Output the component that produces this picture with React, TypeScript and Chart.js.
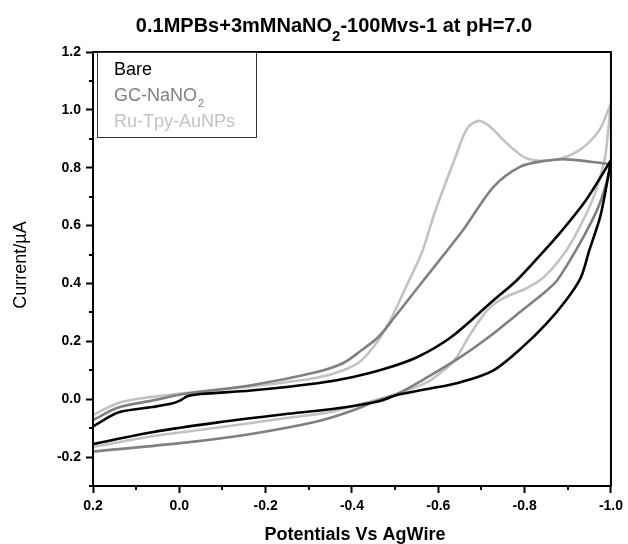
import React, { useEffect, useRef } from "react";
import { Chart, registerables } from "chart.js";

Chart.register(...registerables);

// ---- Text ----
const titleMain = "0.1MPBs+3mMNaNO";
const titleSub = "2";
const titleTail = "-100Mvs-1 at pH=7.0";
const xAxisTitle = "Potentials Vs AgWire";
const yAxisTitle = "Current/\u00B5A";

const seriesLabels = ["Bare", "GC-NaNO", "Ru-Tpy-AuNPs"];
const seriesLabelSubs = ["", "2", ""];
const seriesColors = ["#000000", "#808080", "#c2c2c2"];

// ---- Data: potential (V) vs current (µA); forward scan 0.2 -> -1.0, return -1.0 -> 0.2 ----
// Bare
const bareFwdX = [0.2, 0.19, 0.14, 0.063, 0.02, 0.0, -0.02, -0.05, -0.166, -0.32, -0.4, -0.476, -0.552, -0.63, -0.728, -0.782, -0.843, -0.881, -0.942, -1.0];
const bareFwdY = [-0.095, -0.085, -0.045, -0.027, -0.016, -0.006, 0.011, 0.018, 0.03, 0.055, 0.076, 0.105, 0.146, 0.215, 0.342, 0.411, 0.509, 0.573, 0.688, 0.826];
const bareRetX = [-1.0, -0.99, -0.975, -0.95, -0.93, -0.896, -0.85, -0.795, -0.728, -0.652, -0.575, -0.506, -0.461, -0.35, -0.243, -0.09, 0.063, 0.2];
const bareRetY = [0.826, 0.74, 0.63, 0.515, 0.42, 0.342, 0.26, 0.18, 0.1, 0.059, 0.035, 0.015, -0.008, -0.035, -0.052, -0.08, -0.114, -0.155];

// GC-NaNO2
const gcFwdX = [0.2, 0.14, 0.063, -0.013, -0.166, -0.319, -0.38, -0.422, -0.461, -0.499, -0.56, -0.621, -0.66, -0.728, -0.789, -0.843, -0.896, -0.957, -1.0];
const gcFwdY = [-0.072, -0.028, -0.005, 0.019, 0.048, 0.094, 0.125, 0.169, 0.215, 0.284, 0.4, 0.515, 0.59, 0.734, 0.803, 0.823, 0.829, 0.82, 0.812];
const gcRetX = [-1.0, -0.99, -0.975, -0.957, -0.919, -0.875, -0.843, -0.78, -0.728, -0.652, -0.575, -0.506, -0.46, -0.4, -0.319, -0.166, -0.013, 0.2];
const gcRetY = [0.812, 0.75, 0.68, 0.62, 0.515, 0.41, 0.365, 0.29, 0.227, 0.146, 0.076, 0.019, -0.004, -0.04, -0.077, -0.12, -0.15, -0.181];

// Ru-Tpy-AuNPs
const ruFwdX = [0.2, 0.14, 0.063, -0.013, -0.166, -0.319, -0.38, -0.422, -0.476, -0.529, -0.564, -0.591, -0.637, -0.667, -0.694, -0.72, -0.759, -0.805, -0.866, -0.927, -0.973, -1.0];
const ruFwdY = [-0.055, -0.012, 0.008, 0.021, 0.044, 0.074, 0.1, 0.134, 0.238, 0.4, 0.515, 0.642, 0.826, 0.936, 0.962, 0.942, 0.884, 0.832, 0.826, 0.861, 0.93, 1.023];
const ruRetX = [-1.0, -0.993, -0.985, -0.957, -0.911, -0.88, -0.843, -0.8, -0.766, -0.735, -0.713, -0.675, -0.637, -0.6, -0.575, -0.506, -0.422, -0.346, -0.243, -0.09, 0.063, 0.2];
const ruRetY = [1.023, 0.92, 0.826, 0.688, 0.549, 0.48, 0.42, 0.38, 0.36, 0.335, 0.307, 0.227, 0.134, 0.085, 0.059, 0.019, -0.016, -0.045, -0.066, -0.098, -0.128, -0.165];

// ---- Ticks ----
const xTicks = [0.2, 0.1, 0.0, -0.1, -0.2, -0.3, -0.4, -0.5, -0.6, -0.7, -0.8, -0.9, -1.0];
const yTicks = [-0.3, -0.2, -0.1, 0.0, 0.1, 0.2, 0.3, 0.4, 0.5, 0.6, 0.7, 0.8, 0.9, 1.0, 1.1, 1.2];

function toPoints(fx: number[], fy: number[], rx: number[], ry: number[]) {
  const pts = fx.map((x, i) => ({ x, y: fy[i] }));
  return pts.concat(rx.map((x, i) => ({ x, y: ry[i] })));
}

const FONT = "'Liberation Sans', Arial, sans-serif";

const isMajor = (v: number) => Math.round(v * 10) % 2 === 0;
const tickLabel = (v: number) => (isMajor(v) ? (Math.round(v * 10) / 10).toFixed(1) : "");
const tickColorFn = (c: any) => (c.tick && isMajor(c.tick.value) ? "#000" : "rgba(0,0,0,0)");

const decorPlugin = {
  id: "decor",
  afterDraw(chart: any) {
    const { ctx, chartArea } = chart;
    const { left, right, top, bottom } = chartArea;
    const xs = chart.scales.x;
    const ys = chart.scales.y;
    ctx.save();
    // frame
    ctx.strokeStyle = "#000";
    ctx.lineWidth = 2;
    ctx.strokeRect(left, top, right - left, bottom - top);

    // minor ticks
    ctx.lineWidth = 2;
    ctx.beginPath();
    xTicks.filter((v) => !isMajor(v)).forEach((v) => {
      const px = Math.round(xs.getPixelForValue(v));
      ctx.moveTo(px, bottom);
      ctx.lineTo(px, bottom + 4);
    });
    yTicks.filter((v) => !isMajor(v)).forEach((v) => {
      const py = Math.round(ys.getPixelForValue(v));
      ctx.moveTo(left, py);
      ctx.lineTo(left - 4, py);
    });
    ctx.stroke();

    // title
    ctx.fillStyle = "#000";
    ctx.textBaseline = "alphabetic";
    ctx.textAlign = "left";
    ctx.font = `bold 20px ${FONT}`;
    const w1 = ctx.measureText(titleMain).width;
    const w3 = ctx.measureText(titleTail).width;
    ctx.font = `bold 15px ${FONT}`;
    const w2 = ctx.measureText(titleSub).width;
    const total = w1 + w2 + w3;
    let tx = 334 - total / 2;
    const ty = 32;
    ctx.font = `bold 20px ${FONT}`;
    ctx.fillText(titleMain, tx, ty);
    tx += w1;
    ctx.font = `bold 15px ${FONT}`;
    ctx.fillText(titleSub, tx, ty + 9);
    tx += w2;
    ctx.font = `bold 20px ${FONT}`;
    ctx.fillText(titleTail, tx, ty);

    // axis titles
    ctx.textAlign = "center";
    ctx.textBaseline = "alphabetic";
    ctx.font = `bold 18px ${FONT}`;
    ctx.fillText(xAxisTitle, 355, 540);
    ctx.save();
    ctx.translate(21, 265);
    ctx.rotate(-Math.PI / 2);
    ctx.textBaseline = "middle";
    ctx.font = `18px ${FONT}`;
    ctx.fillText(yAxisTitle, 0, 0);
    ctx.restore();

    // legend box
    const bx = left + 4;
    const by = top;
    const bw = 159;
    const bh = 85;
    ctx.fillStyle = "#ffffff";
    ctx.fillRect(bx, by + 1, bw, bh - 1);
    ctx.strokeStyle = "#333";
    ctx.lineWidth = 1;
    ctx.strokeRect(bx + 0.5, by + 0.5, bw, bh);
    ctx.textAlign = "left";
    ctx.textBaseline = "middle";
    seriesLabels.forEach((lab, i) => {
      const yy = by + 18 + i * 26;
      ctx.fillStyle = seriesColors[i];
      ctx.font = `18px ${FONT}`;
      ctx.fillText(lab, bx + 17, yy);
      if (seriesLabelSubs[i]) {
        const lw = ctx.measureText(lab).width;
        ctx.font = `11px ${FONT}`;
        ctx.fillText(seriesLabelSubs[i], bx + 17 + lw + 1, yy + 8);
      }
    });
    ctx.restore();
  },
};

export default function App() {
  const ref = useRef<HTMLCanvasElement | null>(null);
  useEffect(() => {
    if (!ref.current) return;
    const datasets = [
      { label: "Bare", data: toPoints(bareFwdX, bareFwdY, bareRetX, bareRetY), color: seriesColors[0], order: 0 },
      { label: "GC-NaNO2", data: toPoints(gcFwdX, gcFwdY, gcRetX, gcRetY), color: seriesColors[1], order: 1 },
      { label: "Ru-Tpy-AuNPs", data: toPoints(ruFwdX, ruFwdY, ruRetX, ruRetY), color: seriesColors[2], order: 2 },
    ].map((d) => ({
      label: d.label,
      data: d.data,
      borderColor: d.color,
      backgroundColor: d.color,
      borderWidth: 2.6,
      pointRadius: 0,
      showLine: true,
      tension: 0.3,
      fill: false,
      order: d.order,
    }));

    const chart = new Chart(ref.current, {
      type: "scatter",
      data: { datasets },
      options: {
        animation: false,
        responsive: true,
        maintainAspectRatio: false,
        layout: { padding: { left: 0, right: 13, top: 52, bottom: 0 } },
        plugins: { legend: { display: false }, title: { display: false }, tooltip: { enabled: false } },
        scales: {
          x: {
            type: "linear",
            reverse: true,
            min: -1.0,
            max: 0.2,
            afterBuildTicks: (axis: any) => {
              axis.ticks = xTicks.map((v) => ({ value: v }));
            },
            afterFit: (axis: any) => {
              axis.height = 58;
            },
            ticks: {
              autoSkip: false,
              maxRotation: 0,
              padding: 5,
              color: "#000",
              font: { family: FONT, size: 14, weight: "bold" },
              callback: (v: any) => tickLabel(Number(v)),
            },
            grid: { drawOnChartArea: false, drawTicks: true, tickLength: 7, tickWidth: 2, tickColor: tickColorFn },
            border: { display: true, color: "#000", width: 2 },
          },
          y: {
            type: "linear",
            min: -0.3,
            max: 1.2,
            afterBuildTicks: (axis: any) => {
              axis.ticks = yTicks.map((v) => ({ value: v }));
            },
            afterFit: (axis: any) => {
              axis.width = 93;
            },
            ticks: {
              autoSkip: false,
              padding: 5,
              color: "#000",
              font: { family: FONT, size: 14, weight: "bold" },
              callback: (v: any) => tickLabel(Number(v)),
            },
            grid: { drawOnChartArea: false, drawTicks: true, tickLength: 7, tickWidth: 2, tickColor: tickColorFn },
            border: { display: true, color: "#000", width: 2 },
          },
        },
      },
      plugins: [decorPlugin],
    } as any);
    return () => chart.destroy();
  }, []);
  return (
    <div style={{ position: "fixed", left: 0, top: 0, width: 628, height: 544, background: "#fff" }}>
      <canvas ref={ref} />
    </div>
  );
}
